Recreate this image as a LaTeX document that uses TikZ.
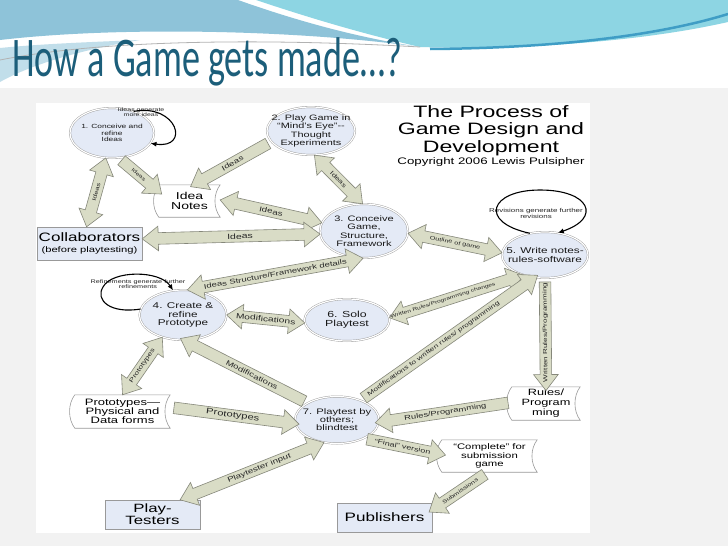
\documentclass[tikz,border=0pt]{standalone}
\usepackage{fontspec}
\setmainfont{Liberation Sans}[FakeStretch=1.4]
\newfontfamily\slidefont{Carlito}[FakeStretch=0.645]
\usetikzlibrary{positioning,calc,shapes.geometric,shapes.arrows,arrows.meta}

\definecolor{lav}{HTML}{E4EAF6}
\definecolor{arrfill}{HTML}{D9DCC6}
\definecolor{arrline}{HTML}{85877A}
\definecolor{waveA}{HTML}{8EC3D9}
\definecolor{waveB}{HTML}{8DD5E3}
\definecolor{waveC}{HTML}{3F9DC5}
\definecolor{titleblue}{HTML}{1C5E7A}
\definecolor{slidegray}{HTML}{F2F2F2}

\newcommand\fs[2]{\fontsize{#1}{#2}\selectfont}
% fat block arrow from #2 to #3, label #6 set in size #4 at position #5
\newcommand\flow[6][single]{%
  \path let \p1=($(#3)-(#2)$), \n1={atan2(\y1,\x1)}, \n2={veclen(\x1,\y1)},
        \n3={ifthenelse(abs(\n1)>89,\n1+180,\n1)},
        \n4={ifthenelse(abs(\n1)>89,180,0)} in
    node[#1 flow, minimum height=\n2, rotate=\n3, shape border rotate=\n4]
      at ($(#2)!0.5!(#3)$) {}
    node[flowlabel, rotate=\n3, font=\fs{#4}{#4}] at ($(#2)!#5!(#3)$) {#6};}

\begin{document}
\begin{tikzpicture}[x=1pt, y=-1pt,
    stage/.style={ellipse, draw=gray!80, double=white, double distance=1.2pt,
                  fill=lav, inner sep=0pt},
    stagetxt/.style={align=center, inner sep=0pt, text=black!90},
    card/.style={rectangle, draw=gray!80, fill=lav, align=center, inner sep=0pt},
    doc/.style={rectangle, align=center, inner sep=0pt},
    docline/.style={draw=gray!80, line width=0.6pt},
    flow/.style={draw=arrline, fill=arrfill, line width=0.6pt,
                 inner xsep=0pt, inner ysep=5.5pt},
    single flow/.style={flow, single arrow, single arrow head extend=6.5pt,
                        single arrow tip angle=75},
    double flow/.style={flow, double arrow, double arrow head extend=6.5pt,
                        double arrow tip angle=75},
    flowlabel/.style={inner sep=0pt, text=black!85},
    selfloop/.style={-{Latex[length=6pt,width=5pt]}, line width=1.1pt, black},
    looptxt/.style={align=center, inner sep=0pt, text=black!85},
  ]
  \useasboundingbox (0,0) rectangle (728,546);

  % --- slide backdrop ---
  \fill[white] (0,0) rectangle (728,546);
  \fill[slidegray] (0,88) rectangle (728,546);
  \fill[white] (36,103) rectangle (590,533);
  \fill[waveA] (0,0) -- (238,0) .. controls (300,22) and (360,38) .. (420,47)
    .. controls (300,30) and (120,26) .. (0,40) -- cycle;
  \fill[waveB] (256,0) -- (728,0) -- (728,22) .. controls (640,42) and (520,50) .. (420,47)
    .. controls (360,33) and (310,18) .. (256,0) -- cycle;
  \fill[waveA!55] (0,48) .. controls (40,44) and (90,42) .. (140,40)
    .. controls (80,50) and (30,65) .. (0,82) -- cycle;
  \draw[gray!60, line width=0.8pt] (0,60) .. controls (100,40) and (260,38) .. (420,47);
  \draw[waveC, line width=2.5pt] (430,49) .. controls (560,48) and (660,35) .. (728,14);

  \node[anchor=base west, inner sep=0pt, text=titleblue, font=\slidefont\fs{56}{56}]
    (title) at (12,76) {How a Game gets made…?};

  % --- heading of the chart ---
  \node[anchor=north, align=center, inner sep=0pt, font=\fs{16.5}{17.5}]
    (head) at (491,105) {The Process of\\Game Design and\\Development};
  \node[below=1.5pt of head, inner sep=0pt, font=\fs{9.5}{10}] (copy)
    {Copyright 2006 Lewis Pulsipher};

  % --- stages ---
  \node[stage, minimum width=84, minimum height=50,
        label={[stagetxt, font=\fs{6}{6.8}]center:{1. Conceive and\\refine\\Ideas}}]
    (c1) at (112,133) {};
  \node[stage, minimum width=88, minimum height=48,
        label={[stagetxt, font=\fs{7.8}{8.3}]center:{2. Play Game in\\“Mind’s Eye”-{}-\\Thought\\Experiments}}]
    (c2) at (311,131) {};
  \node[stage, minimum width=88, minimum height=54,
        label={[stagetxt, font=\fs{7.9}{8.4}]center:{3. Conceive\\Game,\\Structure,\\Framework}}]
    (c3) at (364,231) {};
  \node[stage, minimum width=87, minimum height=50,
        label={[stagetxt, font=\fs{8.4}{8.6}]center:{4. Create \&\\refine\\Prototype}}]
    (c4) at (183,315) {};
  \node[stage, minimum width=86, minimum height=46,
        label={[stagetxt, font=\fs{8.4}{9}]center:{5. Write notes-\\rules-software}}]
    (c5) at (545,255) {};
  \node[stage, minimum width=85, minimum height=42,
        label={[stagetxt, font=\fs{8.8}{9.2}]center:{6. Solo\\Playtest}}]
    (c6) at (347,320) {};
  \node[stage, minimum width=84, minimum height=47,
        label={[stagetxt, font=\fs{8}{8}]center:{7. Playtest by\\others;\\blindtest}}]
    (c7) at (337,420) {};

  % --- people ---
  \node[card, minimum width=105, minimum height=33, font=\fs{12.2}{11}]
    (collab) at (89.5,243.5) {Collaborators\\{\fs{8}{8}(before playtesting)}};
  \node[card, minimum width=95, minimum height=29, font=\fs{12}{11.7}]
    (testers) at (152.5,514.5) {Play-\\Testers};
  \node[card, minimum width=95, minimum height=29, font=\fs{12.2}{12}]
    (publ) at (384.5,517.5) {Publishers};

  % --- stored material ---
  \node[doc, minimum width=61, minimum height=32, font=\fs{10}{10}]
    (idn) at (189.5,201) {Idea\\Notes};
  \node[doc, minimum width=95, minimum height=33, font=\fs{9.3}{9.2}]
    (proto) at (122.5,411.5) {Prototypes—\\Physical and\\Data forms};
  \node[doc, minimum width=68, minimum height=33, font=\fs{9.1}{10}]
    (rules) at (546,403.5) {Rules/\\Program\\ming};
  \node[doc, minimum width=95, minimum height=32, font=\fs{8.1}{8.8}]
    (compl) at (489.5,456) {“Complete” for\\submission\\game};
  \foreach \nm in {idn,proto,rules,compl}
    \draw[docline] (\nm.north west) -- (\nm.north east)
      .. controls +(-7,9) and +(-7,-9) .. (\nm.south east) -- (\nm.south west)
      .. controls +(-7,-9) and +(-7,9) .. (\nm.north west) -- cycle;

  % --- self loops ---
  \node[looptxt, font=\fs{5}{5.2}] (n1) at (141,112) {Ideas generate\\more ideas};
  \draw[selfloop] (c1.45) .. controls +(44,-8) and +(40,6) .. (c1.-15);
  \node[looptxt, font=\fs{5.2}{5.5}] (n4) at (138,284)
    {Refinements generate further\\refinements};
  \draw[selfloop] (c4.172) .. controls (110,314) and (95,300) .. (103,287)
    .. controls (112,270) and (160,270) .. (c4.112);
  \node[looptxt, font=\fs{5.7}{6}] (n5) at (536,213)
    {Revisions generate further\\revisions};
  \draw[selfloop] (c5.125) .. controls (478,222) and (490,190) .. (540,190)
    .. controls (590,190) and (602,218) .. (c5.60);

  % --- ideas ---
  \flow[double]{c1.-104}{collab.100}{5.5}{0.5}{Ideas}
  \flow{c1.-75}{idn.163}{5}{0.5}{Ideas}
  \flow{c2.-165}{idn.75}{7}{0.5}{Ideas}
  \flow[double]{c2.-82}{c3.93}{6}{0.5}{Ideas}
  \flow[double]{idn.2}{c3.169}{7}{0.5}{Ideas}
  \flow[double]{collab.5}{c3.-176}{7.5}{0.55}{Ideas}

  % --- design and prototype ---
  \flow[double]{c3.-3}{c5.177}{5.2}{0.5}{Outline of game}
  \flow[double]{c4.80}{c3.-92}{6.8}{0.5}{Ideas Structure/Framework details}
  \flow[double]{c4.0}{c6.-176}{7.3}{0.5}{Modifications}
  \flow[double]{c4.-133}{proto.90}{6}{0.5}{Prototypes}
  \flow{proto.5}{c7.185}{8}{0.5}{Prototypes}
  \flow[double]{testers.28}{c7.-120}{7}{0.55}{Playtester input}
  \flow{c7.150}{c4.-88}{7}{0.45}{Modifications}

  % --- rules and release ---
  \flow[double]{c6.3}{c5.-137}{4.8}{0.4}{Written Rules/Programming changes}
  \flow{c7.40}{c5.-115}{6}{0.42}{Modifications to written rules/ programming}
  \flow{c5.-90}{rules.90}{5.8}{0.5}{Written Rules/Programming}
  \flow{rules.178}{c7.-3}{6.7}{0.5}{Rules/Programming}
  \flow{c7.-35}{compl.178}{6.4}{0.5}{“Final” version}
  \flow{compl.-95}{publ.9}{5.3}{0.5}{Submissions}
\end{tikzpicture}
\end{document}
